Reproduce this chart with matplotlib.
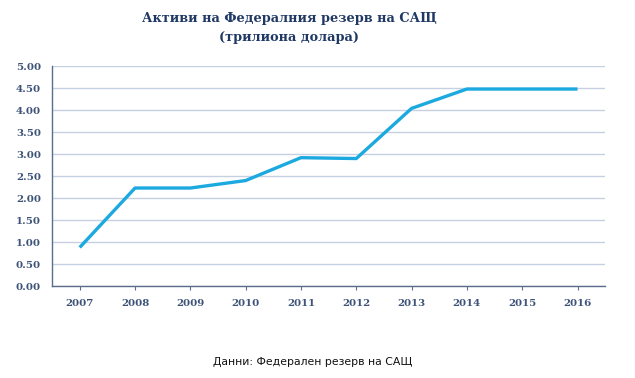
import matplotlib
matplotlib.use("Agg")
import matplotlib.pyplot as plt

years = ["2007", "2008", "2009", "2010", "2011", "2012", "2013", "2014", "2015", "2016"]
assets = [0.88, 2.23, 2.23, 2.40, 2.92, 2.90, 4.04, 4.48, 4.48, 4.48]
y_ticks = [0, 0.5, 1, 1.5, 2, 2.5, 3, 3.5, 4, 4.5, 5]

title = "Активи на Федералния резерв на САЩ\n(трилиона долара)"
source = "Данни: Федерален резерв на САЩ"

navy = "#1F3864"
label_col = "#3E5378"
axis_col = "#5A6E8C"
grid_col = "#C5D1E2"
line_col = "#1BA9DF"

fig = plt.figure(figsize=(6.35, 3.78), dpi=100)
ax = fig.add_axes([0.082, 0.243, 0.871, 0.582])

x = list(range(len(years)))
ax.plot(x, assets, color=line_col, linewidth=2.4, solid_capstyle="butt", zorder=3)

ax.set_xlim(-0.5, len(years) - 0.5)
ax.set_ylim(0, 5)
ax.set_xticks(x)
ax.set_xticklabels(years)
ax.set_yticks(y_ticks)
ax.set_yticklabels([f"{v:.2f}" for v in y_ticks])

for lbl in ax.get_xticklabels() + ax.get_yticklabels():
    lbl.set_fontfamily("DejaVu Serif")
    lbl.set_fontweight("bold")
    lbl.set_fontsize(7.4)
    lbl.set_color(label_col)

ax.yaxis.grid(True, color=grid_col, linewidth=1.0)
ax.set_axisbelow(True)
ax.tick_params(axis="y", length=0, pad=8)
ax.tick_params(axis="x", length=3, color=axis_col, pad=6)

for side in ["top", "right"]:
    ax.spines[side].set_visible(False)
for side in ["left", "bottom"]:
    ax.spines[side].set_color(axis_col)
    ax.spines[side].set_linewidth(1.0)

fig.text(0.455, 0.968, title, ha="center", va="top", fontsize=9.3,
         fontweight="bold", family="DejaVu Serif", color=navy, linespacing=1.55)
fig.text(0.493, 0.042, source, ha="center", va="center", fontsize=7.8,
         family="DejaVu Sans", color="#111111")

fig.savefig("out.png", dpi=100)
